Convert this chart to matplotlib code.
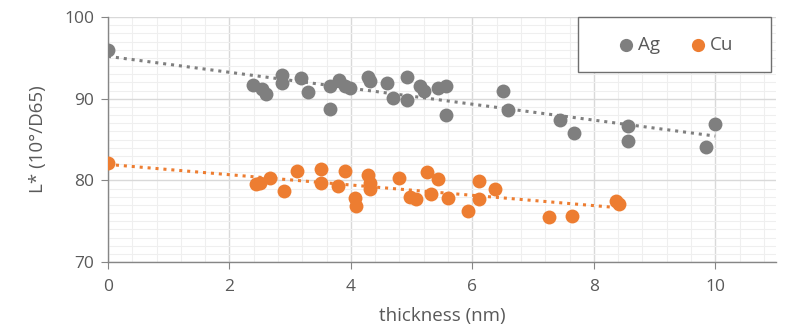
import numpy as np
import matplotlib
matplotlib.use("Agg")
import matplotlib.pyplot as plt
from matplotlib.ticker import MultipleLocator
from matplotlib.patches import Rectangle

ag_x = [0.0, 2.39, 2.53, 2.60, 2.86, 2.86, 3.18, 3.30, 3.66, 3.66, 3.81, 3.90, 3.98,
        4.28, 4.32, 4.60, 4.70, 4.92, 4.92, 5.14, 5.20, 5.44, 5.56, 5.56, 6.51, 6.59,
        7.45, 7.68, 8.57, 8.57, 9.84, 10.0]
ag_y = [95.9, 91.7, 91.2, 90.6, 92.9, 91.9, 92.5, 90.8, 91.5, 88.7, 92.3, 91.5, 91.3,
        92.7, 92.2, 91.9, 90.1, 92.7, 89.8, 91.6, 91.0, 91.3, 91.6, 88.0, 91.0, 88.6,
        87.4, 85.8, 86.7, 84.8, 84.1, 86.9]

cu_x = [0.0, 2.43, 2.51, 2.67, 2.90, 3.12, 3.50, 3.50, 3.79, 3.90, 4.07, 4.09, 4.28,
        4.31, 4.32, 4.80, 4.98, 5.08, 5.25, 5.32, 5.44, 5.60, 5.93, 6.11, 6.11, 6.38,
        7.27, 7.64, 8.37, 8.41]
cu_y = [82.1, 79.6, 79.7, 80.3, 78.7, 81.2, 81.4, 79.7, 79.3, 81.2, 77.8, 76.9, 80.6,
        79.7, 79.0, 80.3, 77.9, 77.7, 81.0, 78.3, 80.2, 77.8, 76.2, 79.9, 77.7, 79.0,
        75.5, 75.6, 77.5, 77.1]

series = [("Ag", ag_x, ag_y, "#7f7f7f"), ("Cu", cu_x, cu_y, "#ed7d31")]

plt.rcParams['font.family'] = ['Open Sans', 'DejaVu Sans']
text_col = "#595959"

fig = plt.figure(figsize=(7.85, 3.34), dpi=100)
ax = fig.add_axes([108/785, 1-262/334, (776-108)/785, (262-17)/334])

for name, xs, ys, col in series:
    ax.scatter(xs, ys, s=100, color=col, label=name, zorder=3, linewidths=0)
    k, b = np.polyfit(xs, ys, 1)
    xx = np.array([min(xs), max(xs)])
    ax.plot(xx, k*xx + b, linestyle=(0, (1, 1.6)), color=col, lw=2.2, zorder=2)

ax.set_xlim(0, 11)
ax.set_ylim(70, 100)
ax.xaxis.set_major_locator(MultipleLocator(2))
ax.xaxis.set_minor_locator(MultipleLocator(0.4))
ax.yaxis.set_major_locator(MultipleLocator(10))
ax.yaxis.set_minor_locator(MultipleLocator(1))
ax.grid(which='major', color='#d9d9d9', lw=1.0, zorder=0)
ax.grid(which='minor', color='#efefef', lw=0.8, zorder=0)
ax.set_axisbelow(True)
for s in ['top', 'right']:
    ax.spines[s].set_visible(False)
for s in ['left', 'bottom']:
    ax.spines[s].set_color('#868686')
    ax.spines[s].set_linewidth(1.0)
ax.tick_params(which='major', colors='#868686', labelcolor=text_col, labelsize=12.5, length=5, direction='out')
ax.tick_params(which='minor', length=0)
ax.tick_params(axis='x', pad=7)
ax.tick_params(axis='y', pad=5)
ax.set_xlabel("thickness (nm)", fontsize=13.5, color=text_col, labelpad=9)
ax.set_ylabel("L* (10°/D65)", fontsize=13.5, color=text_col, labelpad=12)

# legend frame
fig.patches.append(Rectangle((578/785, 1-72/334), (771-578)/785, (72-17)/334,
                             transform=fig.transFigure, facecolor='white',
                             edgecolor='#6f6f6f', lw=1.0, zorder=5))
leg = fig.legend(loc='center', bbox_to_anchor=(676/785, 1-44.5/334),
                 ncol=2, frameon=False, fontsize=13.5, handletextpad=0.25,
                 handlelength=0.8, columnspacing=1.6, markerscale=0.95,
                 labelcolor=text_col)
leg.set_zorder(6)

fig.savefig("out.png", dpi=100)
